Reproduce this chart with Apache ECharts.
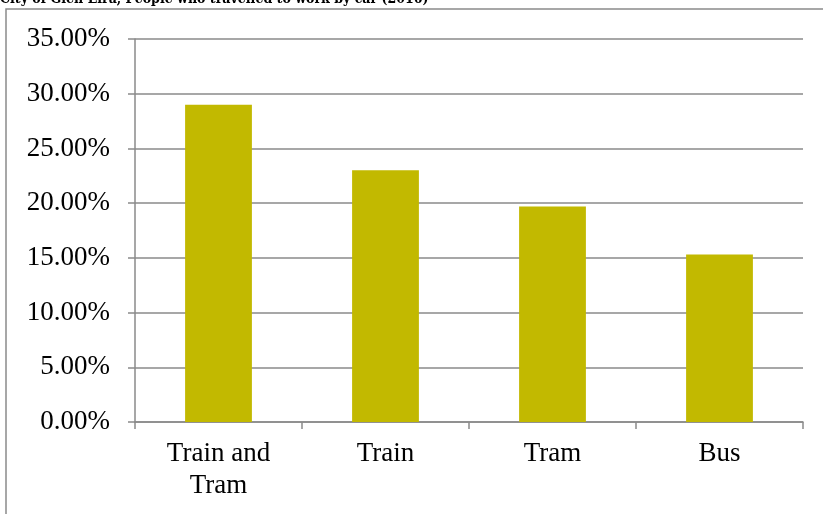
<!DOCTYPE html>
<html>
<head>
<meta charset="utf-8">
<script src="https://cdn.jsdelivr.net/npm/echarts@6/dist/echarts.min.js"></script>
<style>html,body{margin:0;padding:0;background:#fff}#c{width:823px;height:514px}</style>
</head>
<body>
<div id="c"></div>
<script>
const titleText = 'City of Glen Eira, People who travelled to work by car (2016)';
const categories = ['Train and\nTram', 'Train', 'Tram', 'Bus'];
const values = [29.0, 23.0, 19.7, 15.3];
const yMin = 0, yMax = 35, yStep = 5;

const FONT = 'Liberation Serif';
const chart = echarts.init(document.getElementById('c'), null, {renderer: 'canvas'});
chart.setOption({
  animation: false,
  backgroundColor: '#fff',
  graphic: [
    {type: 'rect', shape: {x: 6, y: 9, width: 900, height: 600}, style: {fill: 'none', stroke: '#8a8a8a', lineWidth: 1.5}, z: -1},
    {type: 'text', left: 0, top: -8, style: {text: titleText, font: 'bold 14px "DejaVu Serif Condensed"', fill: '#000'}}
  ],
  grid: {left: 135, right: 20, top: 39, bottom: 92, containLabel: false},
  xAxis: {
    type: 'category', data: categories,
    axisLine: {lineStyle: {color: '#8a8a8a', width: 1.5}},
    axisTick: {show: true, length: 7, lineStyle: {color: '#8a8a8a', width: 1.5}},
    axisLabel: {color: '#000', fontFamily: FONT, fontSize: 27, lineHeight: 32, margin: 16}
  },
  yAxis: {
    type: 'value', min: yMin, max: yMax, interval: yStep,
    axisLine: {show: true, lineStyle: {color: '#8a8a8a', width: 1.5}},
    axisTick: {show: true, length: 7, lineStyle: {color: '#8a8a8a', width: 1.5}},
    splitLine: {lineStyle: {color: '#8a8a8a', width: 1.5}},
    axisLabel: {color: '#000', fontFamily: FONT, fontSize: 27, margin: 25,
      formatter: v => v.toFixed(2) + '%'}
  },
  series: [{
    type: 'bar', data: values, barWidth: '40%',
    itemStyle: {color: '#c2b900'}
  }]
});
</script>
</body>
</html>
